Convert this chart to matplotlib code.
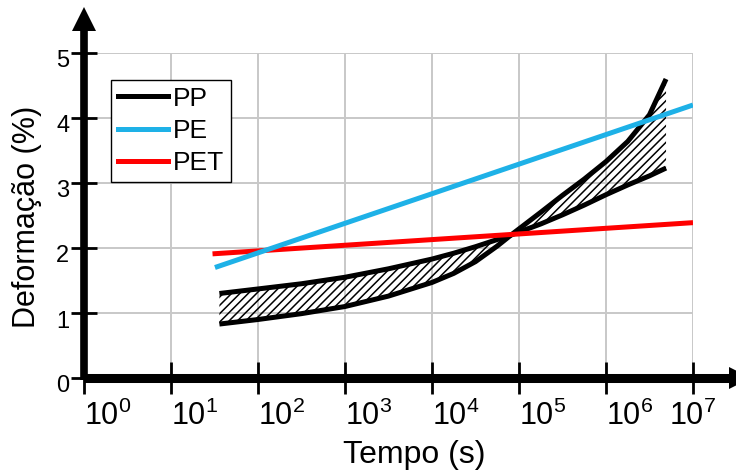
import matplotlib
matplotlib.use("Agg")
import matplotlib.pyplot as plt
import matplotlib.transforms as mtransforms
from matplotlib import font_manager

# ---- data -------------------------------------------------------------
# time in seconds (log axis), strain in %
pp_t = [36, 1e2, 3.16e2, 1e3, 3.16e3, 1e4, 1.78e4, 3.16e4, 5.62e4, 8.1e4,
        1.78e5, 3.16e5, 5.62e5, 1e6, 1.78e6, 3.16e6, 4.9e6]
pp_upper = [1.30, 1.37, 1.45, 1.55, 1.68, 1.83, 1.92, 2.02, 2.13, 2.20,
            2.37, 2.51, 2.66, 2.82, 2.97, 3.11, 3.23]
pp_lower = [0.83, 0.90, 0.99, 1.10, 1.26, 1.47, 1.61, 1.79, 2.03, 2.20,
            2.55, 2.81, 3.06, 3.33, 3.64, 4.05, 4.60]

pe_t = [32, 1e7]
pe_y = [1.70, 4.20]

pet_t = [30, 1e7]
pet_y = [1.91, 2.39]

x_ticks = [1, 1e1, 1e2, 1e3, 1e4, 1e5, 1e6, 1e7]
x_tick_labels = [r"$\mathregular{10^{%d}}$" % k for k in range(8)]
y_ticks = [0, 1, 2, 3, 4, 5]

series_names = ["PP", "PE", "PET"]
series_colors = ["#000000", "#1eb1e7", "#ff0000"]

# ---- fonts ------------------------------------------------------------
available = {f.name for f in font_manager.fontManager.ttflist}
base_font = "Liberation Sans" if "Liberation Sans" in available else "DejaVu Sans"
narrow_font = "Liberation Sans Narrow" if "Liberation Sans Narrow" in available else base_font
plt.rcParams["font.family"] = [base_font, "DejaVu Sans"]
plt.rcParams["mathtext.fontset"] = "custom"
plt.rcParams["mathtext.rm"] = narrow_font
plt.rcParams["hatch.linewidth"] = 1.1

W, H, DPI = 736, 472, 100
fig = plt.figure(figsize=(W / DPI, H / DPI), dpi=DPI)

# axes box: 10^0..10^7 horizontally, 0..5 vertically
x0, x1 = 84, 693
y0, y1 = 378, 53
ax = fig.add_axes([x0 / W, (H - y0) / H, (x1 - x0) / W, (y0 - y1) / H])
ax.set_xscale("log")
ax.set_xlim(1, 1e7)
ax.set_ylim(0, 5)

for s in ax.spines.values():
    s.set_visible(False)

ax.set_xticks(x_ticks)
ax.set_xticklabels(x_tick_labels)
ax.xaxis.set_minor_locator(matplotlib.ticker.NullLocator())
ax.set_yticks(y_ticks)
ax.set_yticklabels([str(v) for v in y_ticks])

ax.grid(True, color="#c8c8c8", linewidth=1.4, zorder=0)
ax.set_axisbelow(True)

ax.tick_params(axis="x", direction="inout", length=23, width=2.0, pad=5,
               labelsize=22, colors="black")
ax.tick_params(axis="y", direction="inout", length=19, width=2.0, pad=1,
               labelsize=17, colors="black")

# ---- axis lines with arrow heads --------------------------------------
ax.plot([0, 1.075], [0, 0], transform=ax.transAxes, color="black", lw=6.5,
        solid_capstyle="butt", clip_on=False, zorder=6)
ax.plot([0, 0], [-0.005, 1.1], transform=ax.transAxes, color="black", lw=5.5,
        solid_capstyle="butt", clip_on=False, zorder=6)
ax.plot([1.0765], [0], transform=ax.transAxes, marker=">", ms=16, color="black",
        clip_on=False, zorder=7, markeredgewidth=0)
ax.plot([0], [1.1035], transform=ax.transAxes, marker="^", ms=17, color="black",
        clip_on=False, zorder=7, markeredgewidth=0)

# ---- data -------------------------------------------------------------
ax.fill_between(pp_t, pp_upper, pp_lower, facecolor="none", edgecolor="black",
                hatch="////", linewidth=0, zorder=2)
line_kw = dict(lw=3.6, solid_capstyle="butt", solid_joinstyle="round")
ax.plot(pp_t, pp_upper, color=series_colors[0], zorder=3, **line_kw)
ax.plot(pp_t, pp_lower, color=series_colors[0], zorder=3, **line_kw)
ax.plot(pet_t, pet_y, color=series_colors[2], zorder=4, **line_kw)
ax.plot(pe_t, pe_y, color=series_colors[1], zorder=5, **line_kw)

# ---- legend -----------------------------------------------------------
handles = [plt.Line2D([], [], color=c, lw=3.6) for c in series_colors]
leg = ax.legend(handles, series_names, loc="upper left",
                bbox_to_anchor=(111 / W, 1 - 80 / H), bbox_transform=fig.transFigure,
                fontsize=19, frameon=True, fancybox=False, framealpha=1,
                edgecolor="black", borderpad=0.25, labelspacing=0.32,
                handlelength=1.9, handletextpad=0.2, borderaxespad=0)
leg.get_frame().set_linewidth(1.0)
leg.set_zorder(8)

# ---- labels -----------------------------------------------------------
fig.text(414 / W, 1 - 463 / H, "Tempo (s)", fontsize=23, ha="center", va="baseline")
fig.text(27 / W, 1 - 217 / H, "Deformação (%)", fontsize=22, ha="center",
         va="center", rotation=90)

fig.canvas.draw()
for lab in ax.get_xticklabels():
    lab.set_ha("left")
ax.get_xticklabels()[-1].set_ha("center")
down = mtransforms.ScaledTranslation(0, -6 / DPI, fig.dpi_scale_trans)
for lab in ax.get_yticklabels():
    lab.set_transform(lab.get_transform() + down)

fig.savefig("out.png", dpi=DPI)
